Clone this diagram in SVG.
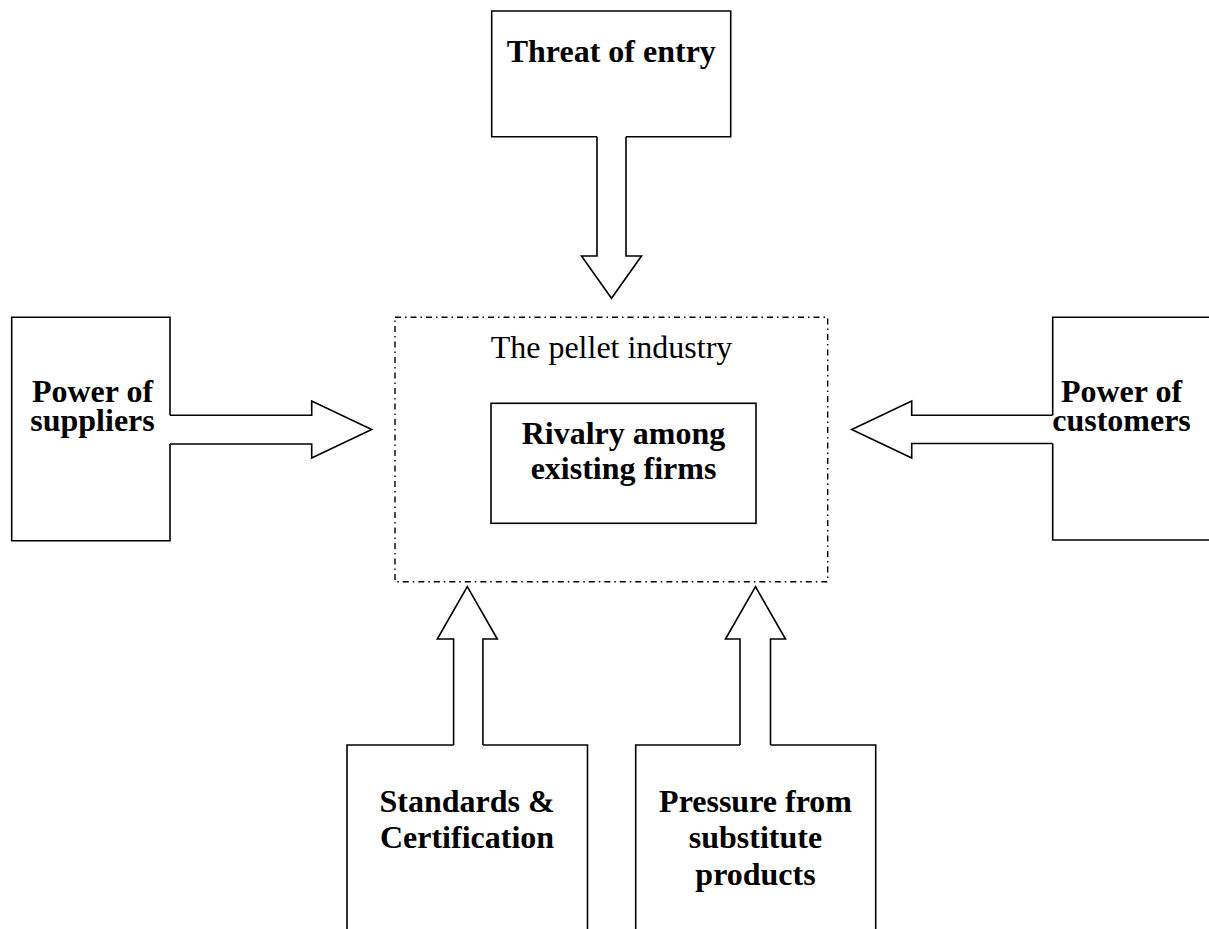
<svg xmlns="http://www.w3.org/2000/svg" width="1209" height="929" viewBox="0 0 1209 929">
<style>
.ln{fill:none;stroke:#000;stroke-width:1.6;stroke-linejoin:miter}
.ar{fill:#fff;stroke:#000;stroke-width:1.6;stroke-linejoin:miter}
.dash{fill:none;stroke:#000;stroke-width:1.4;stroke-dasharray:6 4 1.5 4}
.b{font-family:"Liberation Serif","Times New Roman",serif;font-weight:bold;font-size:32px;fill:#000;text-anchor:middle}
.r{font-family:"Liberation Serif","Times New Roman",serif;font-size:32px;fill:#000;text-anchor:middle}
</style>
<rect width="1209" height="929" fill="#fff"/>
<g id="industry">
<rect class="dash" x="395" y="317.3" width="432.7" height="264.4"/>
<text class="r" x="611.5" y="358">The pellet industry</text>
</g>
<g id="rivalry">
<rect class="ln" x="491" y="403.3" width="265" height="120"/>
<text class="b" x="623.5" y="444">Rivalry among</text>
<text class="b" x="623.5" y="479">existing firms</text>
</g>
<g id="entry">
<path class="ln" d="M597,136.7 H491.7 V11 H730.7 V136.7 H626"/>
<text class="b" x="611.3" y="61.5">Threat of entry</text>
</g>
<g id="suppliers">
<path class="ln" d="M170,415.3 V317.3 H11.7 V540.7 H170 V444"/>
<text class="b" x="92.5" y="401.5">Power of</text>
<text class="b" x="92.5" y="431">suppliers</text>
</g>
<g id="customers">
<path class="ln" d="M1052.7,415.3 V317.3 H1215 M1215,540 H1052.7 V443.5"/>
<text class="b" x="1121.5" y="401.5">Power of</text>
<text class="b" x="1121.5" y="430.5">customers</text>
</g>
<g id="standards">
<path class="ln" d="M453.6,745 H347 V935 M587.5,935 V745 H482.9"/>
<text class="b" x="467" y="811.5">Standards &amp;</text>
<text class="b" x="467" y="848">Certification</text>
</g>
<g id="substitutes">
<path class="ln" d="M740,745 H635.7 V935 M875.7,935 V745 H770.5"/>
<text class="b" x="755.5" y="811.5">Pressure from</text>
<text class="b" x="755.5" y="848">substitute</text>
<text class="b" x="755.5" y="884.5">products</text>
</g>
<g id="connectors">
<path class="ar" d="M597,136.7 V256 H581.5 L611.5,298.3 L641.5,256 H626 V136.7"/>
<path class="ar" d="M170,415.3 H311.7 V401 L371.7,429.5 L311.7,458 V444 H170"/>
<path class="ar" d="M1052.7,415.3 H911.7 V401 L851.7,429.5 L911.7,458 V443.5 H1052.7"/>
<path class="ar" d="M453.6,745 V639 H437.3 L467.3,586.7 L497.3,639 H482.9 V745"/>
<path class="ar" d="M740,745 V639 H725.5 L755.5,586.7 L785.5,639 H770.5 V745"/>
</g>
</svg>
